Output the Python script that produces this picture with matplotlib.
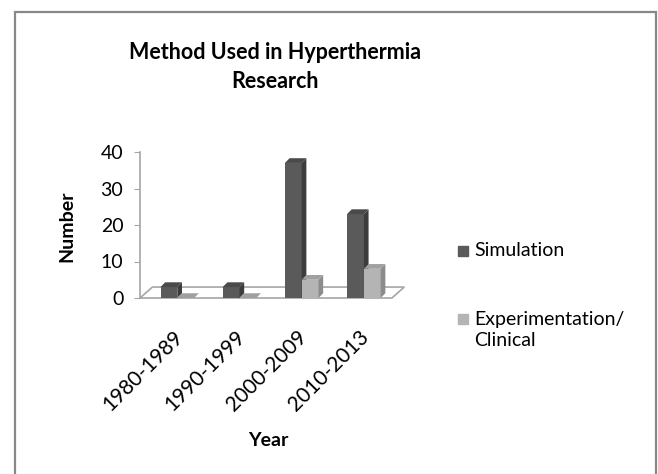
import matplotlib.pyplot as plt
from matplotlib.patches import Polygon, Rectangle

# data
years = ["1980-1989", "1990-1999", "2000-2009", "2010-2013"]
simulation = [3, 3, 37, 23]
experimentation = [0, 0, 5, 8]

plt.rcParams['font.family'] = ['Lato', 'DejaVu Sans']

fig = plt.figure(figsize=(6.58, 4.74), dpi=100)

# outer chart border (runs off the bottom edge like the original)
fig.patches.append(Rectangle((15 / 658, -0.05), (641) / 658, 1 - 12 / 474 + 0.05,
                             transform=fig.transFigure, fill=False,
                             edgecolor='#888888', linewidth=1.6))

ax = fig.add_axes([140 / 658, (474 - 298) / 474, 255 / 658, 146 / 474])
ax.set_xlim(-0.6, 3.5)
ax.set_ylim(0, 40)

w = 0.27
ddx, ddy = 0.075, 1.3  # depth of each bar


def bar3d(x0, h, front, side, top):
    ax.bar(x0, h, width=w, align='edge', color=front, zorder=3)
    ax.add_patch(Polygon([(x0 + w, 0), (x0 + w + ddx, ddy), (x0 + w + ddx, h + ddy), (x0 + w, h)],
                         closed=True, facecolor=side, edgecolor='none', zorder=3))
    ax.add_patch(Polygon([(x0, h), (x0 + ddx, h + ddy), (x0 + w + ddx, h + ddy), (x0 + w, h)],
                         closed=True, facecolor=top, edgecolor='none', zorder=3))


# floor
fdx, fdy = 0.2, 3.0
ax.add_patch(Polygon([(-0.6, 0), (-0.6 + fdx, fdy), (3.45 + fdx, fdy), (3.45, 0)],
                     closed=True, facecolor='white', edgecolor='#a6a6a6',
                     linewidth=1.2, zorder=1, clip_on=False))

for i in range(len(years)):
    bar3d(i - w, simulation[i], '#5a5a5a', '#3c3c3c', '#4a4a4a')
    bar3d(i, experimentation[i], '#b4b4b4', '#8c8c8c', '#a0a0a0')

for s in ['top', 'right']:
    ax.spines[s].set_visible(False)
ax.spines['left'].set_color('#a6a6a6')
ax.spines['left'].set_linewidth(1.2)
ax.spines['bottom'].set_visible(False)

ax.set_yticks([0, 10, 20, 30, 40])
ax.tick_params(axis='y', labelsize=14, length=4, color='#a6a6a6', pad=8)
ax.set_xticks([])

# rotated category labels
for i, yr in enumerate(years):
    ax.text(i - 0.08, -0.2, yr, transform=ax.get_xaxis_transform(), rotation=45,
            ha='right', va='top', rotation_mode='anchor', fontsize=15)

fig.text(67 / 658, 1 - 226 / 474, "Number", rotation=90, ha='center', va='center',
         fontsize=14, fontweight='bold')
fig.text(268 / 658, 1 - 440 / 474, "Year", ha='center', va='center',
         fontsize=14, fontweight='bold')

fig.text(275 / 658, 1 - 67 / 474, "Method Used in Hyperthermia\nResearch",
         ha='center', va='center', fontsize=15.5, fontweight='bold', linespacing=1.45)

# legend
fig.patches.append(Rectangle((458 / 658, 1 - 256 / 474), 10 / 658, 10 / 474,
                             transform=fig.transFigure, color='#5a5a5a'))
fig.text(474 / 658, 1 - 250 / 474, "Simulation", fontsize=14, va='center')
fig.patches.append(Rectangle((458 / 658, 1 - 324 / 474), 10 / 658, 10 / 474,
                             transform=fig.transFigure, color='#b4b4b4'))
fig.text(474 / 658, 1 - 330 / 474, "Experimentation/\nClinical", fontsize=14,
         va='center', linespacing=1.3)

fig.savefig("out.png", dpi=100)
